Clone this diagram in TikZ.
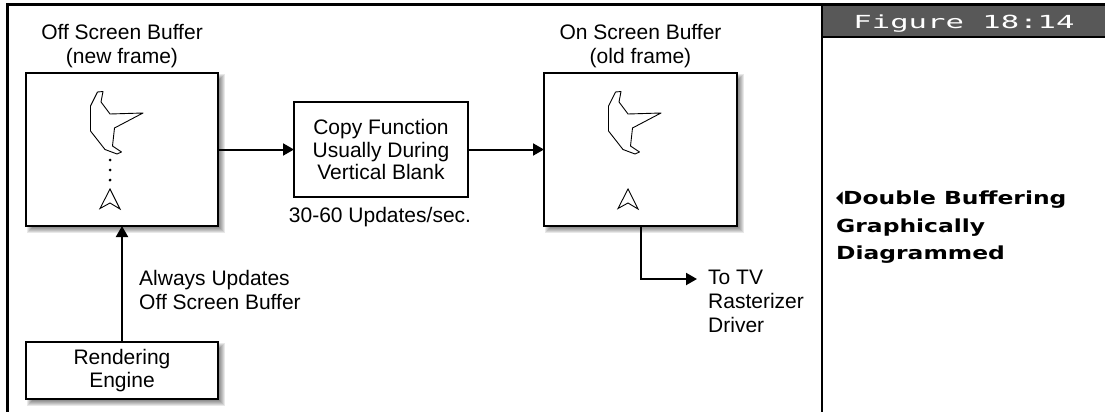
\documentclass[tikz,border=0pt]{standalone}
\usepackage{fontspec}
\setmainfont{Liberation Sans}
\newfontfamily\sidefont{DejaVu Sans}[FakeStretch=1.3]
\newfontfamily\titlefont{DejaVu Sans Mono}[FakeStretch=1.7]
\usetikzlibrary{arrows.meta,calc}
\pgfdeclarelayer{bg}
\pgfsetlayers{bg,main}
\definecolor{titlegray}{RGB}{88,88,88}

% soft drop shadow behind a named box
\newcommand\boxshade[1]{%
  \foreach \e in {-3,...,3}{%
    \fill[black,fill opacity=0.09]
      ($(#1.north west)+(4-\e,4-\e)$) rectangle ($(#1.south east)+(4+\e,4+\e)$);
  }%
}

% outline of the sprite and its marker, relative to a box corner
\newcommand\sprite{%
  \draw[line width=0.9pt,line join=round]
    (71.5,19) -- (77,18.5) -- (75,29) -- (84,41) -- (117,40) -- (88.5,55)
    -- (86.5,73) -- (95.5,79) -- (91,81) -- (79,76.5) -- (64.5,58)
    -- (64.5,33) -- cycle;
  \draw[line width=0.9pt,line join=miter]
    (74,135.5) -- (84,116) -- (94,136) -- (84,130) -- cycle;
}

\tikzset{
  box/.style={draw,line width=2pt,fill=white,inner sep=0pt,outer sep=0pt},
  lbl/.style={inner sep=0pt,font=\fontsize{21}{24}\selectfont},
  conn/.style={line width=2pt,-{Triangle[length=11pt,width=12pt]}},
}

\begin{document}
\begin{tikzpicture}[x=1pt,y=-1pt]
\useasboundingbox (0,0) rectangle (1105,412);

% page frame and side panel
\node[fill=titlegray,minimum width=283pt,minimum height=32pt,inner sep=0pt,outer sep=0pt] (bar) at (963.5,21) {};
\draw[line width=3pt] (7,412) -- (7,5) -- (1105,5);
\draw[line width=2.5pt] (822,5) -- (822,412);
\draw[line width=2pt] (bar.south west) -- (bar.south east);
\node[anchor=base,inner sep=0pt,text=white,font=\titlefont\fontsize{18}{20}\selectfont] (figtitle) at (964,28.3) {Figure 18:14};

\fill (836,198) -- (842.5,191.5) -- (842.5,204.5) -- cycle;
\node[anchor=north west,inner sep=0pt,align=left,font=\sidefont\bfseries\fontsize{18}{27.8}\selectfont] (caption) at (836,190.5)
  {\hspace*{7pt}Double Buffering\\Graphically\\Diagrammed};

% boxes
\node[box,minimum width=192pt,minimum height=153pt] (off) at (122,149.5) {};
\node[box,minimum width=193pt,minimum height=153pt] (on) at (640.5,149.5) {};
\node[box,minimum width=174pt,minimum height=95pt,align=center,font=\fontsize{21}{22.5}\selectfont] (copy) at (381,149.5)
  {Copy Function\\Usually During\\Vertical Blank};
\node[box,minimum width=192pt,minimum height=57pt,align=center,font=\fontsize{21}{22.5}\selectfont] (render) at (122,370.5)
  {Rendering\\Engine};

\begin{pgfonlayer}{bg}
  \boxshade{off}
  \boxshade{on}
  \boxshade{render}
\end{pgfonlayer}

% box contents
\begin{scope}[shift={(off.north west)}]
  \sprite
  \foreach \yy in {87,97,107} \fill (84,\yy) circle (1.5pt);
\end{scope}
\begin{scope}[shift={(on.north west)}]
  \sprite
\end{scope}

% labels
\node[lbl,anchor=north,align=center] (offlbl) at (122,24) {Off Screen Buffer\\(new frame)};
\node[lbl,anchor=north,align=center] (onlbl) at (640.5,24) {On Screen Buffer\\(old frame)};
\node[lbl,anchor=north] (rate) at (380,207.5) {30-60 Updates/sec.};
\node[lbl,anchor=north west,align=left] (always) at (139,270.5) {Always Updates\\Off Screen Buffer};

% connectors
\coordinate (tv) at (697,279);
\draw[conn] (off.east) -- (copy.west);
\draw[conn] (copy.east) -- (on.west);
\draw[conn] (render.north) -- (off.south);
\draw[conn] (on.south) |- (tv);
\node[lbl,anchor=north west,align=left] (tvlbl) at (708,269.5) {To TV\\Rasterizer\\Driver};
\end{tikzpicture}
\end{document}
